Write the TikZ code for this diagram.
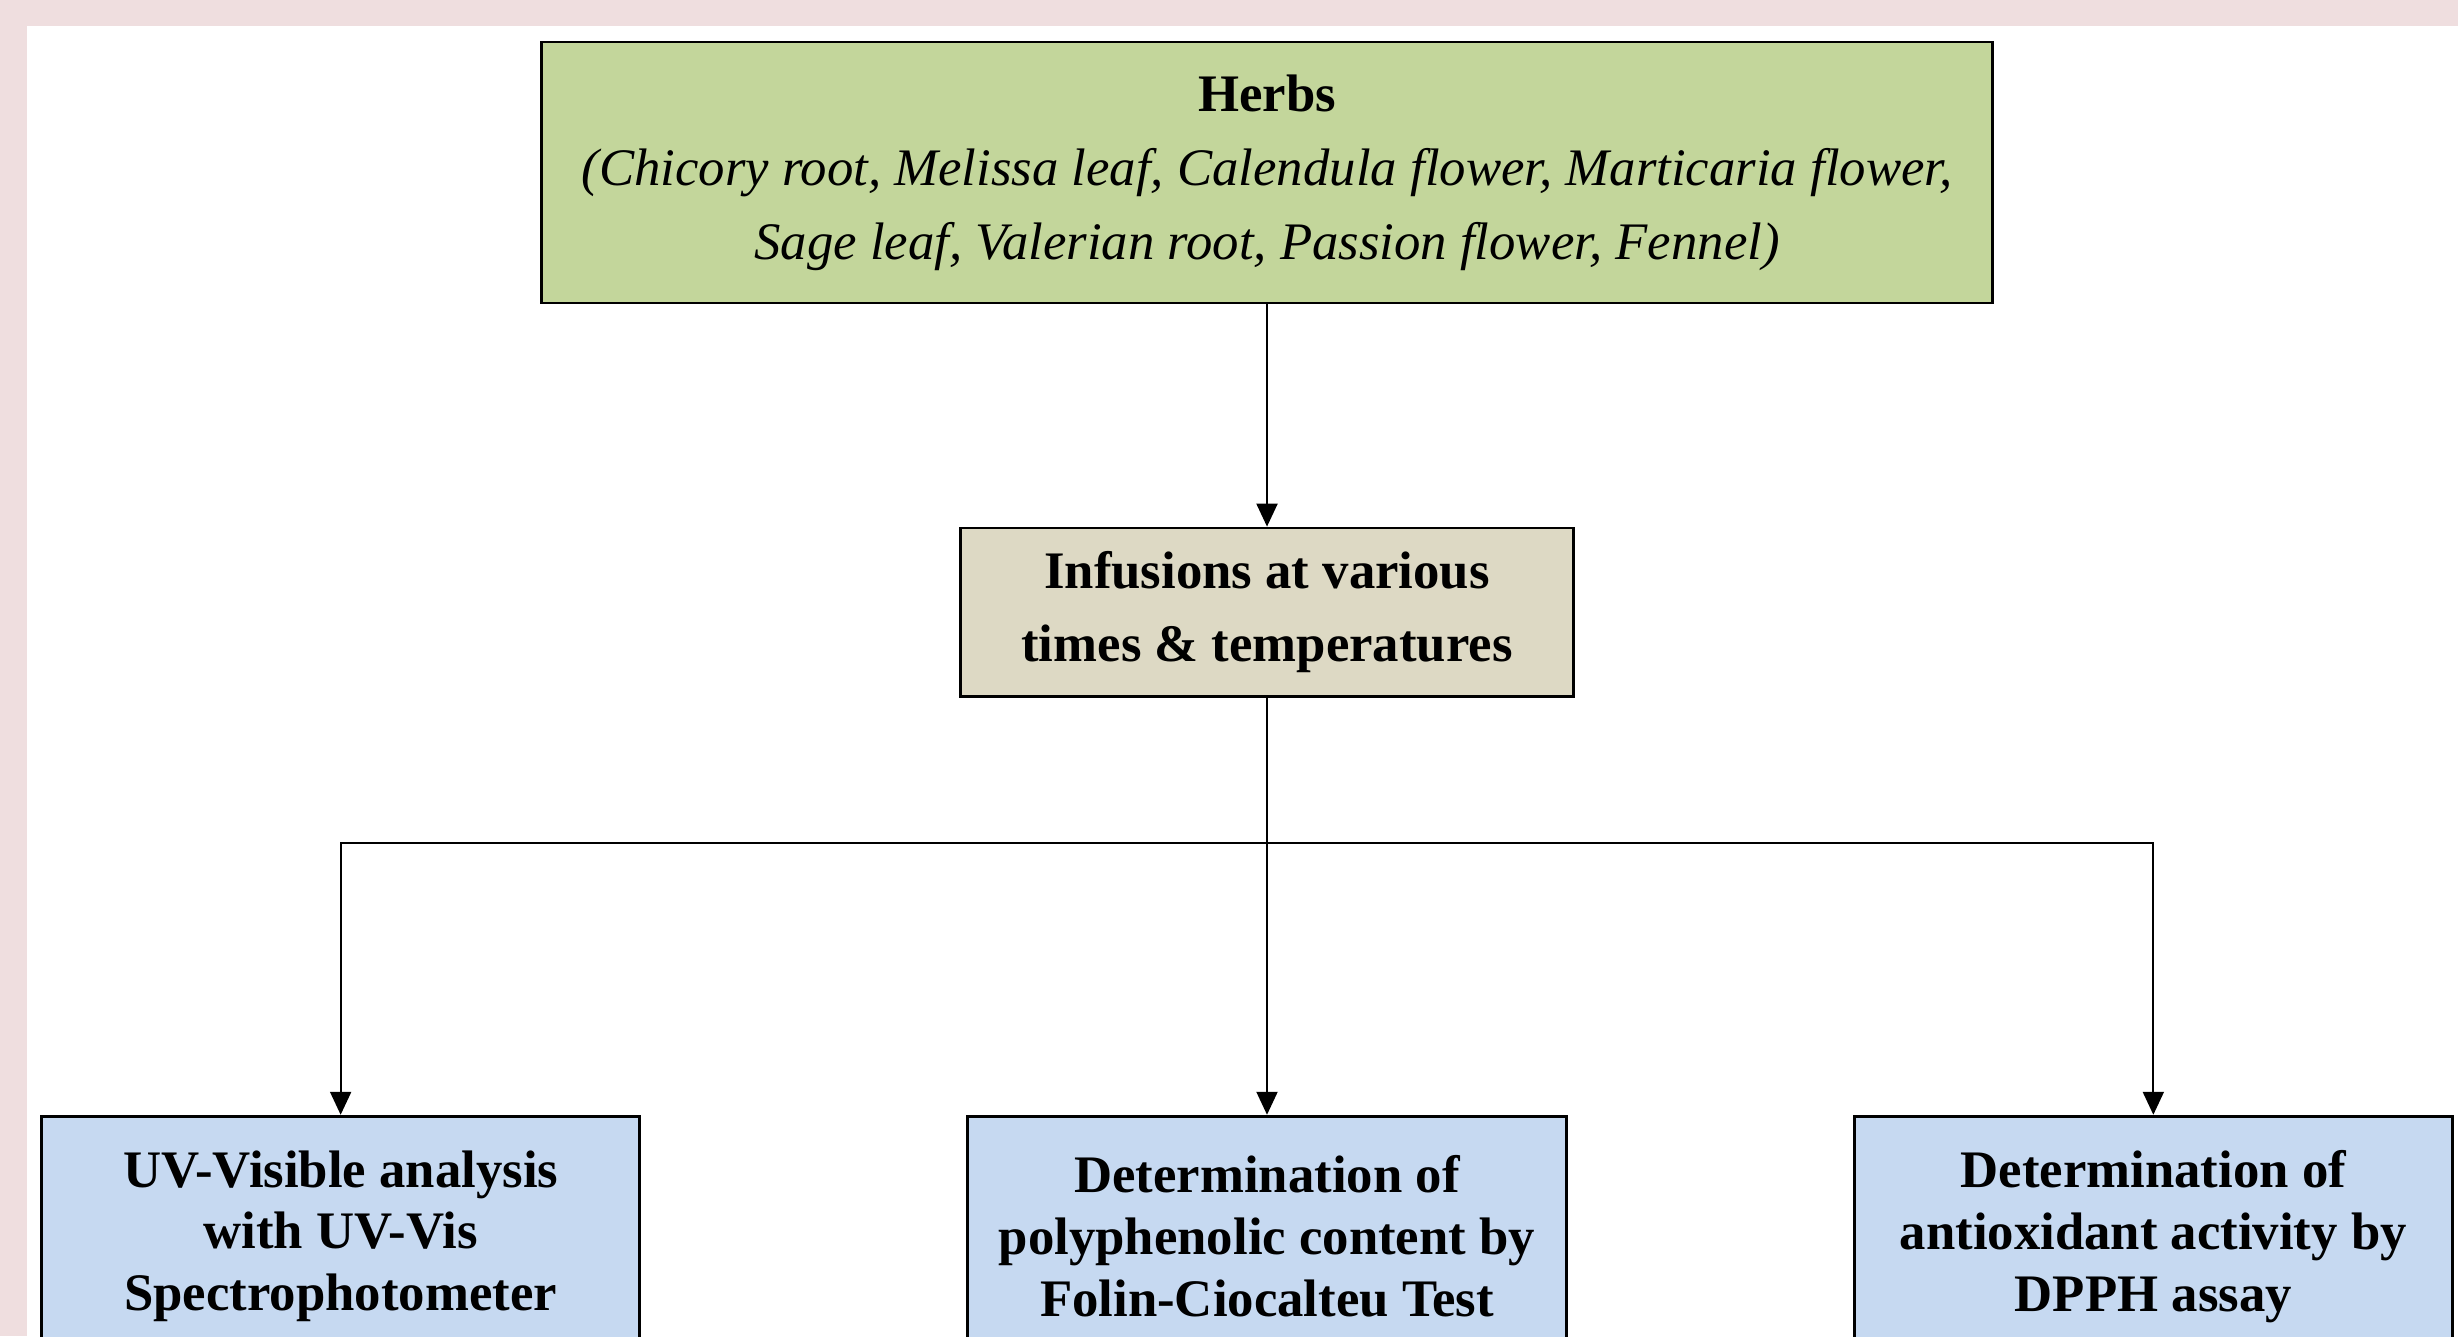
\documentclass[tikz,border=0pt]{standalone}
\usepackage{fontspec}
\setmainfont{Liberation Serif}
\usetikzlibrary{arrows.meta, positioning}
\definecolor{pinkbg}{HTML}{EFDEDF}
\definecolor{herbgreen}{HTML}{C3D69B}
\definecolor{infusetan}{HTML}{DDD9C4}
\definecolor{testblue}{HTML}{C6D9F1}

\begin{document}
\begin{tikzpicture}[
  x=0.01cm, y=-0.01cm,
  font=\fontsize{15}{21}\selectfont,
  herbbox/.style={rectangle, draw, line width=0.8pt, fill=herbgreen, minimum width=14.5cm, minimum height=2.61cm, align=center},
  infusebox/.style={rectangle, draw, line width=0.8pt, fill=infusetan, minimum width=6.13cm, minimum height=1.68cm, align=center, font=\fontsize{15}{21}\selectfont\bfseries},
  testbox/.style={rectangle, draw, line width=0.8pt, fill=testblue, minimum width=5.98cm, minimum height=2.4cm, align=center, font=\fontsize{15}{17.6}\selectfont\bfseries},
  arrow/.style={line width=0.6pt, -{Triangle[width=2.1mm, length=2.3mm]}},
  link/.style={line width=0.6pt}
]

% Page frame
\useasboundingbox (0,0) rectangle (2458,1336);
\clip (0,0) rectangle (2458,1336);
\fill[pinkbg] (0,0) rectangle (2458,1336);
\fill[white] (27,26) rectangle (2458,1336);

% Nodes (main flow)
\node[herbbox] (herbs) at (1267,172.5) {\textbf{Herbs}\\\textit{(Chicory root, Melissa leaf, Calendula flower, Marticaria flower,}\\\textit{Sage leaf, Valerian root, Passion flower, Fennel)}};
\node[infusebox, below=2.22cm of herbs] (infusions) {Infusions at various\\times \& temperatures};

% Nodes (analyses)
\node[testbox, below=4.17cm of infusions] (chemtest) {Determination of\\polyphenolic content by\\Folin-Ciocalteu Test};
\node[testbox, left=3.25cm of chemtest] (uvvis) {UV-Visible analysis\\with UV-Vis\\Spectrophotometer};
\node[testbox, right=2.85cm of chemtest] (dpph) {Determination of\\antioxidant activity by\\DPPH assay};

\coordinate[below=1.45cm of infusions.south] (split);

% Arrows
\draw[arrow] (herbs) -- (infusions);
\draw[link] (infusions) -- (split);
\draw[arrow] (split) -- (chemtest);
\draw[arrow] (split) -| (uvvis);
\draw[arrow] (split) -| (dpph);

\end{tikzpicture}
\end{document}
